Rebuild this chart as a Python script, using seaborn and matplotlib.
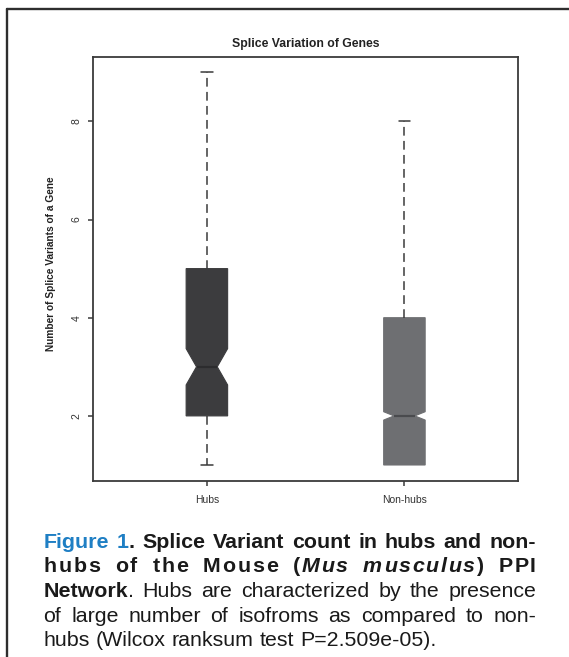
import re
import matplotlib
matplotlib.use('Agg')
import matplotlib.pyplot as plt
import seaborn as sns
from matplotlib.lines import Line2D

# ---------------- data ----------------
categories = ['Hubs', 'Non-hubs']
medians = [3, 2]
q1_vals = [2, 1]
q3_vals = [5, 4]
whisker_low = [1, 1]
whisker_high = [9, 8]
notch_low = [2.63, 1.915]
notch_high = [3.37, 2.085]
y_ticks = [2, 4, 6, 8]
y_tick_labels = ['2', '4', '6', '8']

title = 'Splice Variation of Genes'
y_label = 'Number of Splice Variants of a Gene'

caption_lines = [
    ([('Figure 1', 'bold_blue'), ('. Splice Variant count in hubs and non-', 'bold')], 'justify'),
    ([('hubs of the Mouse (', 'bold'), ('Mus musculus', 'bold_italic'), (') PPI', 'bold')], 'spread'),
    ([('Network', 'bold'), ('. Hubs are characterized by the presence', 'normal')], 'justify'),
    ([('of large number of isofroms as compared to non-', 'normal')], 'justify'),
    ([('hubs (Wilcox ranksum test P=2.509e-05).', 'normal')], 'left'),
]

# ---------------- style ----------------
sns.set_theme(style='white')
plt.rcParams['font.family'] = ['Liberation Sans', 'DejaVu Sans']
plt.rcParams['lines.scale_dashes'] = False

W, H = 569, 657
def fx(x):
    return x / W
def fy(y):
    return 1 - y / H

fig = plt.figure(figsize=(W / 100, H / 100), dpi=100)
fig.patch.set_facecolor('white')

ax_left, ax_right, ax_top, ax_bottom = 93.3, 518.0, 56.5, 480.7
ax = fig.add_axes([fx(ax_left), fy(ax_bottom), (ax_right - ax_left) / W, (ax_bottom - ax_top) / H])
ax.set_facecolor('white')

fill_colors = ['#3c3c3e', '#6e6f72']
median_colors = ['#2c2c2e', '#4a4b4e']
line_col = '#3a3a3a'

stats = []
for c, m, a, b, lo, hi, nl, nh in zip(categories, medians, q1_vals, q3_vals,
                                       whisker_low, whisker_high, notch_low, notch_high):
    stats.append(dict(label=c, med=m, q1=a, q3=b, whislo=lo, whishi=hi,
                      cilo=nl, cihi=nh, fliers=[]))

res = ax.bxp(stats, positions=[1, 2], widths=0.21, capwidths=0.058, shownotches=True,
             patch_artist=True, showfliers=False,
             whiskerprops=dict(color=line_col, linewidth=1.1, linestyle=(0, (6.3, 3.8))),
             capprops=dict(color=line_col, linewidth=1.1),
             medianprops=dict(color='#2c2c2e', linewidth=1.6),
             boxprops=dict(linewidth=0.8))
for patch, col in zip(res['boxes'], fill_colors):
    patch.set_facecolor(col)
    patch.set_edgecolor(col)
for med, col in zip(res['medians'], median_colors):
    med.set_color(col)
# zero-length lower whisker of the second box: hide its staple
for i, (lo, a) in enumerate(zip(whisker_low, q1_vals)):
    if lo == a:
        res['caps'][2 * i].set_visible(False)

ax.set_xlim(0.425, 2.575)
ax.set_ylim(0.68, 9.32)
ax.set_xticks([1, 2])
ax.set_xticklabels(categories)
ax.set_yticks(y_ticks)
ax.set_yticklabels(y_tick_labels, rotation=90, va='center')
ax.tick_params(axis='both', which='both', length=3.5, width=1.1, color=line_col,
               labelsize=7.5, labelcolor='#333333', left=True, bottom=True,
               direction='out')
ax.tick_params(axis='y', pad=5)
ax.tick_params(axis='x', pad=6.5)
for s in ax.spines.values():
    s.set_visible(True)
    s.set_color(line_col)
    s.set_linewidth(1.3)
ax.grid(False)

fig.text(fx(305.6), fy(44), title, ha='center', va='center', fontsize=8.8,
         fontweight='bold', color='#222222')
fig.text(fx(50.7), fy(264), y_label, ha='center', va='center',
         rotation=90, fontsize=7.3, fontweight='bold', color='#222222')

# outer frame
fig.add_artist(Line2D([fx(6.5), 1.0], [fy(8.5), fy(8.5)], transform=fig.transFigure,
                      color='#2e2e2e', linewidth=1.7))
fig.add_artist(Line2D([fx(6.5), fx(6.5)], [fy(8.5), 0.0], transform=fig.transFigure,
                      color='#2e2e2e', linewidth=1.7))

# ---------------- caption ----------------
cap_size = 15.4
styles = {
    'bold_blue': dict(fontsize=cap_size, fontweight='bold', color='#1f7fc4'),
    'bold': dict(fontsize=cap_size, fontweight='bold', color='#1a1a1a'),
    'bold_italic': dict(fontsize=cap_size, fontweight='bold', fontstyle='italic', color='#1a1a1a'),
    'normal': dict(fontsize=cap_size, color='#1a1a1a'),
}
renderer = fig.canvas.get_renderer()
_cache = {}
def advance(s, key):
    k = (s, key)
    if k not in _cache:
        p = styles[key]
        t1 = fig.text(0, 0, '|' + s + '|', **p)
        w1 = t1.get_window_extent(renderer).width
        t1.remove()
        t2 = fig.text(0, 0, '||', **p)
        w2 = t2.get_window_extent(renderer).width
        t2.remove()
        _cache[k] = w1 - w2
    return _cache[k]

cap_left, cap_right = 43.5, 536.0
baselines = [548, 572.5, 597, 621.5, 646]
letter_space = 1.7

for (runs, mode), base in zip(caption_lines, baselines):
    units = []
    for text, key in runs:
        if mode == 'spread':
            for ch in text:
                units.append((ch, key, ch == ' '))
        else:
            for part in re.split(r'( )', text):
                if part:
                    units.append((part, key, part == ' '))
    widths = [advance(u[0], u[1]) for u in units]
    natural = sum(widths)
    n_space = sum(1 for u in units if u[2])
    extra_space = 0.0
    extra_letter = 0.0
    if mode == 'justify' and n_space:
        extra_space = (cap_right - cap_left - natural) / n_space
    elif mode == 'spread':
        n_gaps = len(units) - 1
        remaining = cap_right - cap_left - natural - letter_space * n_gaps
        extra_letter = letter_space
        extra_space = remaining / n_space
    x = cap_left
    for (s, key, is_sp), w in zip(units, widths):
        if not is_sp:
            fig.text(fx(x), fy(base), s, ha='left', va='baseline', **styles[key])
        x += w + extra_letter + (extra_space if is_sp else 0)

fig.savefig('out.png', dpi=100, facecolor='white')
